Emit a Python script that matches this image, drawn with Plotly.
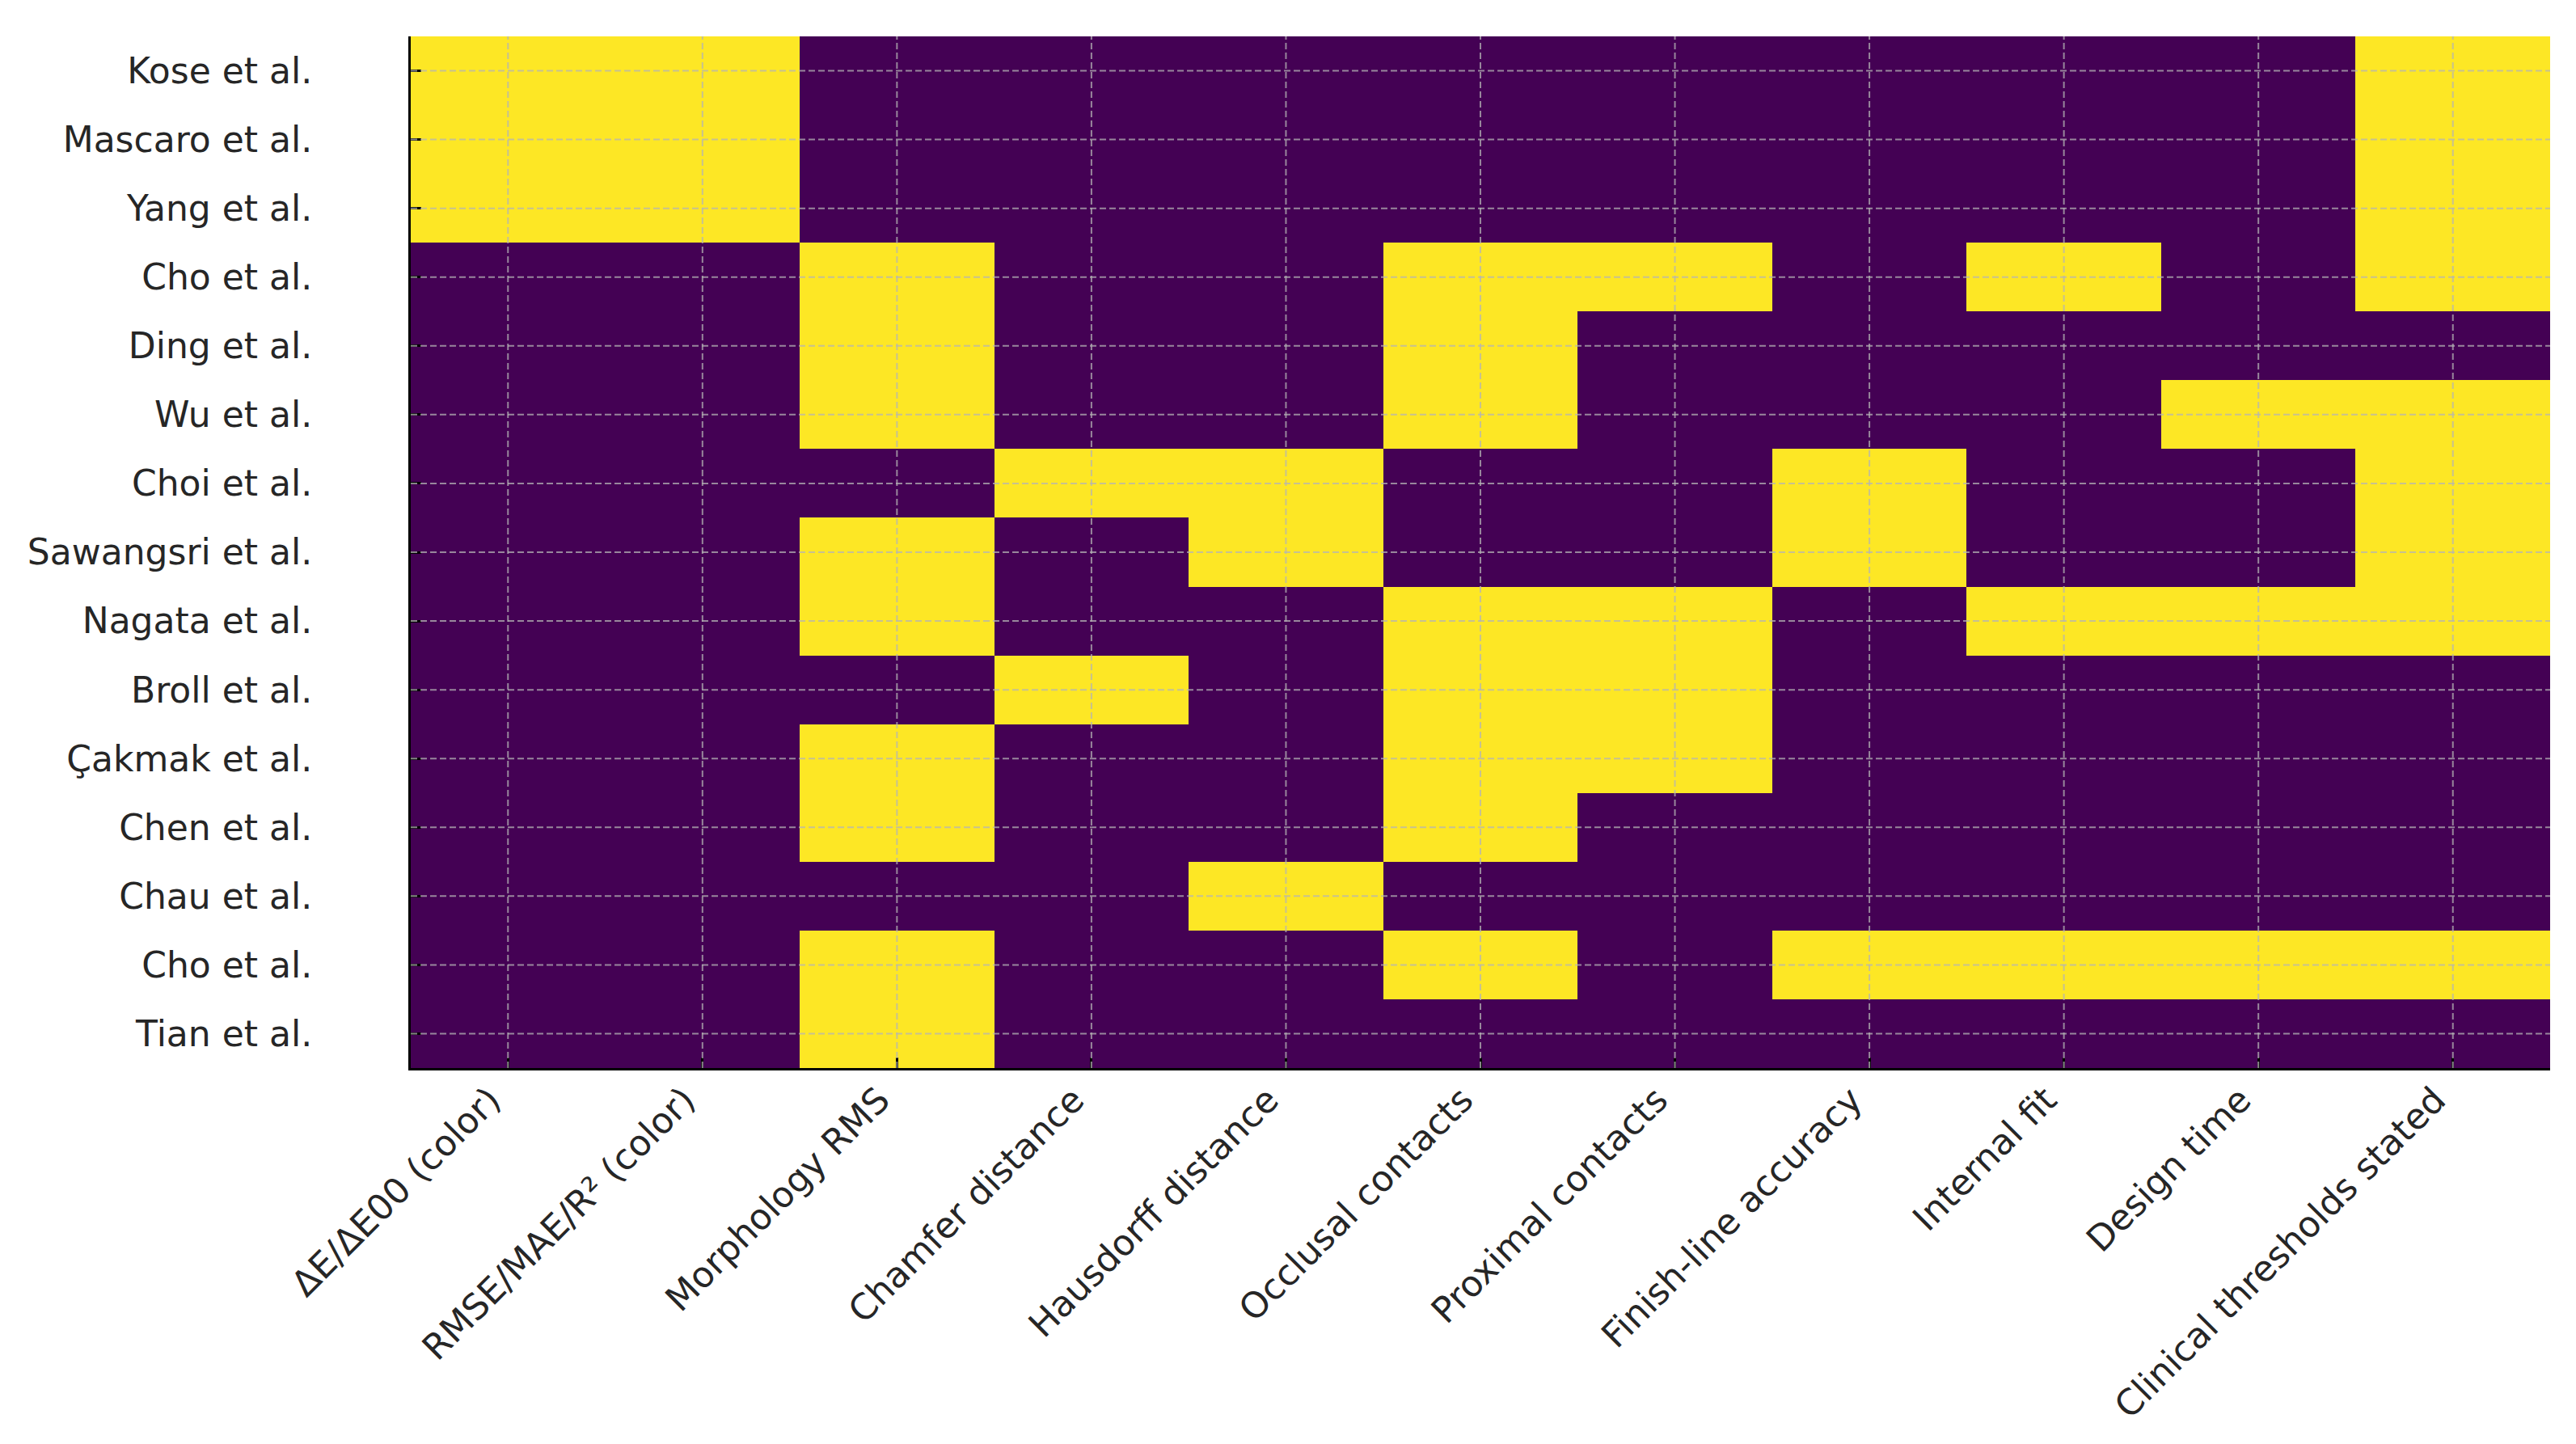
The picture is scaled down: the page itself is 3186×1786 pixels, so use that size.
import plotly.graph_objects as go

studies = ["Kose et al.", "Mascaro et al.", "Yang et al.", "Cho et al.", "Ding et al.",
           "Wu et al.", "Choi et al.", "Sawangsri et al.", "Nagata et al.", "Broll et al.",
           "Çakmak et al.", "Chen et al.", "Chau et al.", "Cho et al.", "Tian et al."]

metrics = ["ΔE/ΔE00 (color)", "RMSE/MAE/R² (color)", "Morphology RMS", "Chamfer distance",
           "Hausdorff distance", "Occlusal contacts", "Proximal contacts",
           "Finish-line accuracy", "Internal fit", "Design time", "Clinical thresholds stated"]

kose      = [1, 1, 0, 0, 0, 0, 0, 0, 0, 0, 1]
mascaro   = [1, 1, 0, 0, 0, 0, 0, 0, 0, 0, 1]
yang      = [1, 1, 0, 0, 0, 0, 0, 0, 0, 0, 1]
cho_a     = [0, 0, 1, 0, 0, 1, 1, 0, 1, 0, 1]
ding      = [0, 0, 1, 0, 0, 1, 0, 0, 0, 0, 0]
wu        = [0, 0, 1, 0, 0, 1, 0, 0, 0, 1, 1]
choi      = [0, 0, 0, 1, 1, 0, 0, 1, 0, 0, 1]
sawangsri = [0, 0, 1, 0, 1, 0, 0, 1, 0, 0, 1]
nagata    = [0, 0, 1, 0, 0, 1, 1, 0, 1, 1, 1]
broll     = [0, 0, 0, 1, 0, 1, 1, 0, 0, 0, 0]
cakmak    = [0, 0, 1, 0, 0, 1, 1, 0, 0, 0, 0]
chen      = [0, 0, 1, 0, 0, 1, 0, 0, 0, 0, 0]
chau      = [0, 0, 0, 0, 1, 0, 0, 0, 0, 0, 0]
cho_b     = [0, 0, 1, 0, 0, 1, 0, 1, 1, 1, 1]
tian      = [0, 0, 1, 0, 0, 0, 0, 0, 0, 0, 0]

matrix = [kose, mascaro, yang, cho_a, ding, wu, choi, sawangsri, nagata,
          broll, cakmak, chen, chau, cho_b, tian]

xs = list(range(len(metrics)))
ys = list(range(len(studies)))

fig = go.Figure(go.Heatmap(
    z=matrix, x=xs, y=ys,
    colorscale=[[0, "#440154"], [1, "#fde725"]],
    zmin=0, zmax=1, showscale=False, hoverinfo="skip",
))

grid_color = "rgba(180,180,180,0.75)"
shapes = []
for i in xs:
    shapes.append(dict(type="line", xref="x", yref="paper", x0=i, x1=i, y0=0, y1=1,
                       line=dict(color=grid_color, width=2, dash="8px,4px"), layer="above"))
for j in ys:
    shapes.append(dict(type="line", xref="paper", yref="y", x0=0, x1=1, y0=j, y1=j,
                       line=dict(color=grid_color, width=2, dash="8px,4px"), layer="above"))

font = dict(family="DejaVu Sans", size=44, color="#262626")

fig.update_layout(
    width=3186, height=1786,
    margin=dict(l=508, r=32, t=45, b=465),
    paper_bgcolor="white", plot_bgcolor="white",
    shapes=shapes,
    xaxis=dict(
        tickmode="array", tickvals=xs, ticktext=metrics, tickangle=-45,
        range=[-0.5, len(metrics) - 0.5],
        ticks="inside", ticklen=13, tickwidth=3, tickcolor="black",
        showline=True, linecolor="black", linewidth=3,
        showgrid=False, zeroline=False, layer="above traces",
        tickfont=font, ticklabelstandoff=-7, ticklabelshift=-22,
    ),
    yaxis=dict(
        tickmode="array", tickvals=ys, ticktext=studies,
        range=[len(studies) - 0.5, -0.5],
        ticks="inside", ticklen=13, tickwidth=3, tickcolor="black",
        showline=True, linecolor="black", linewidth=3,
        showgrid=False, zeroline=False, layer="above traces",
        tickfont=font, ticklabelstandoff=110,
    ),
)

fig.write_html("out.html")
